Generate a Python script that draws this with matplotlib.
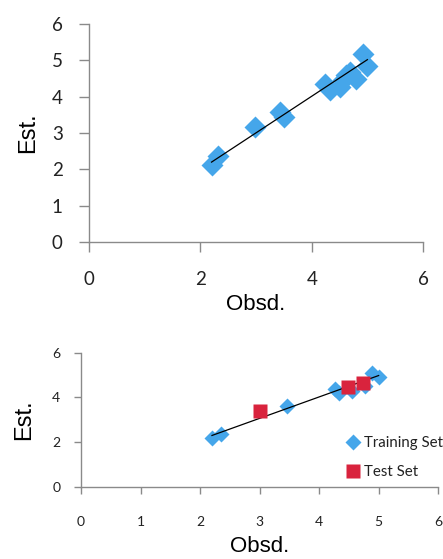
import matplotlib
matplotlib.use('Agg')
import matplotlib.pyplot as plt

# upper panel: all compounds
top_obs = [2.2, 2.32, 2.98, 3.43, 3.5, 4.24, 4.33, 4.5, 4.57, 4.69, 4.62, 4.8, 4.92, 5.0]
top_est = [2.12, 2.38, 3.18, 3.58, 3.45, 4.36, 4.19, 4.27, 4.46, 4.69, 4.6, 4.5, 5.18, 4.84]
top_fit_x = [2.2, 5.0]
top_fit_y = [2.2, 5.02]

# lower panel: training / test split
train_obs = [2.2, 2.35, 3.46, 4.26, 4.34, 4.55, 4.77, 4.89, 5.01]
train_est = [2.18, 2.37, 3.6, 4.38, 4.2, 4.3, 4.52, 5.1, 4.92]
test_obs = [3.0, 4.49, 4.74]
test_est = [3.41, 4.45, 4.65]
bot_fit_x = [2.2, 5.0]
bot_fit_y = [2.3, 4.98]

blue = '#45a6ea'
red = '#d9233d'
grey = '#8a8a8a'
tick_font = 'Lato'
label_font = 'Liberation Sans'

fig = plt.figure(figsize=(4.43, 5.59), dpi=100)

def style(ax, fs, xpad, ypad, ticklen, xticks):
    for s in ['top', 'right']:
        ax.spines[s].set_visible(False)
    for s in ['left', 'bottom']:
        ax.spines[s].set_color(grey)
        ax.spines[s].set_linewidth(1.0)
    ax.set_xlim(0, 6)
    ax.set_ylim(0, 6)
    ax.set_xticks(xticks)
    ax.tick_params(axis='both', direction='out', color=grey, length=ticklen,
                   width=1.0, labelsize=fs, labelcolor='#222222')
    ax.tick_params(axis='x', pad=xpad)
    ax.tick_params(axis='y', pad=ypad)
    for lab in ax.get_xticklabels() + ax.get_yticklabels():
        lab.set_fontfamily(tick_font)

# top chart
ax1 = fig.add_axes([0.201, 0.567, 0.754, 0.39])
ax1.plot(top_fit_x, top_fit_y, color='black', lw=0.9, zorder=3)
ax1.plot(top_obs, top_est, 'D', color=blue, ms=11.5, mec='none', zorder=2)
ax1.set_yticks([0, 1, 2, 3, 4, 5, 6])
style(ax1, 13.5, 14, 12, 7, [0, 2, 4, 6])
ax1.set_xlabel('Obsd.', fontsize=16, family=label_font, labelpad=4)
ax1.set_ylabel('Est.', fontsize=17, family=label_font, labelpad=9)

# bottom chart
ax2 = fig.add_axes([0.183, 0.129, 0.806, 0.24])
ax2.plot(bot_fit_x, bot_fit_y, color='black', lw=0.9, zorder=3)
ax2.plot(train_obs, train_est, 'D', color=blue, ms=8, mec='none', zorder=2, label='Training Set')
ax2.plot(test_obs, test_est, 's', color=red, ms=10, mec='none', zorder=4, label='Test Set')
ax2.set_yticks([0, 2, 4, 6])
style(ax2, 10, 16, 10, 5, [0, 1, 2, 3, 4, 5, 6])
ax2.set_xlabel('Obsd.', fontsize=16, family=label_font, labelpad=6)
ax2.set_ylabel('Est.', fontsize=17, family=label_font, labelpad=12)
leg = ax2.legend(loc='lower left', bbox_to_anchor=(0.745, 0.06), frameon=False,
                 prop={'family': tick_font, 'size': 10.8}, handlelength=0.8,
                 handletextpad=0.3, labelspacing=1.0, borderaxespad=0.0,
                 borderpad=0.0)
for t in leg.get_texts():
    t.set_color('#222222')

fig.savefig('out.png', dpi=100)
